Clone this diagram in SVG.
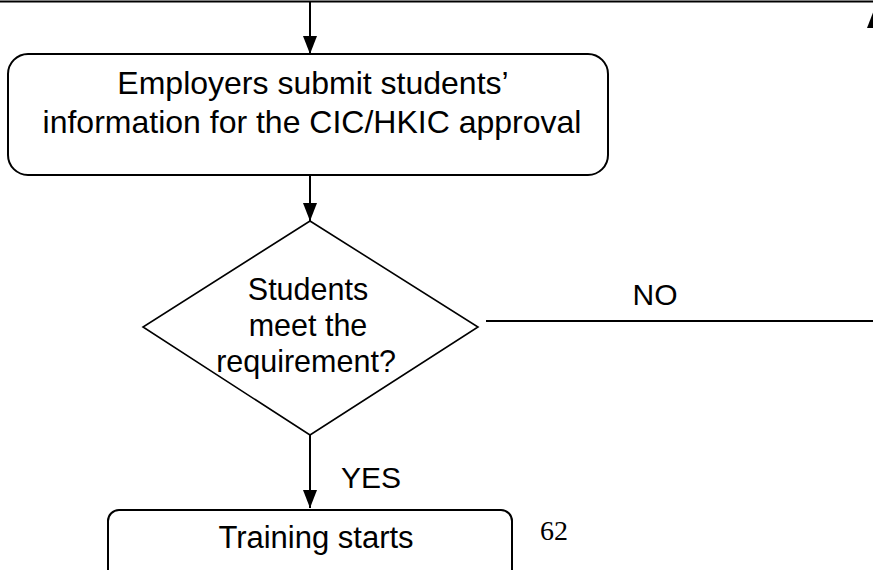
<svg xmlns="http://www.w3.org/2000/svg" width="873" height="570" viewBox="0 0 873 570">
<style>
.box{fill:#fff;stroke:#000;stroke-width:2}
.dia{fill:#fff;stroke:#000;stroke-width:1.6}
.ln{fill:none;stroke:#000;stroke-width:2}
.t{font-family:"Liberation Sans",Arial,sans-serif;fill:#000;text-anchor:middle}
.head{fill:#000}
</style>
<defs>
<marker id="arr" viewBox="0 0 18 14" refX="18" refY="7" markerWidth="18" markerHeight="14" markerUnits="userSpaceOnUse" orient="auto">
<path d="M0,0 L18,7 L0,14 Z" class="head"/>
</marker>
</defs>
<g id="connectors">
<line class="ln" x1="0" y1="1.5" x2="873" y2="1.5" stroke-width="2.5"/>
<line class="ln" x1="310" y1="2" x2="310" y2="54" marker-end="url(#arr)"/>
<line class="ln" x1="310" y1="175" x2="310" y2="221" marker-end="url(#arr)"/>
<line class="ln" x1="310" y1="428" x2="310" y2="508" marker-end="url(#arr)"/>
<line class="ln" x1="486" y1="321" x2="874" y2="321"/>
<line class="ln" x1="874" y1="321" x2="874" y2="10" marker-end="url(#arr)"/>
</g>
<g id="submit">
<rect class="box" x="8" y="54" width="600" height="121" rx="20" ry="20"/>
<text class="t" x="313" y="94" font-size="32">Employers submit students’</text>
<text class="t" x="312" y="133" font-size="32">information for the CIC/HKIC approval</text>
</g>
<g id="decision">
<polygon class="dia" points="310,221 478,327 310,435 143,327"/>
<text class="t" x="308" y="300" font-size="30.5">Students</text>
<text class="t" x="308" y="336" font-size="30.5">meet the</text>
<text class="t" x="306" y="372" font-size="30.5">requirement?</text>
</g>
<g id="label-no">
<text class="t" x="655" y="305" font-size="30">NO</text>
</g>
<g id="label-yes">
<text class="t" x="371" y="488" font-size="30">YES</text>
</g>
<g id="training">
<rect class="box" x="108" y="510" width="404" height="100" rx="11" ry="11"/>
<text class="t" x="316" y="548" font-size="31">Training starts</text>
</g>
<g id="page-number">
<text x="540" y="540" font-size="28" font-family="'Liberation Serif','Times New Roman',serif">62</text>
</g>
</svg>
